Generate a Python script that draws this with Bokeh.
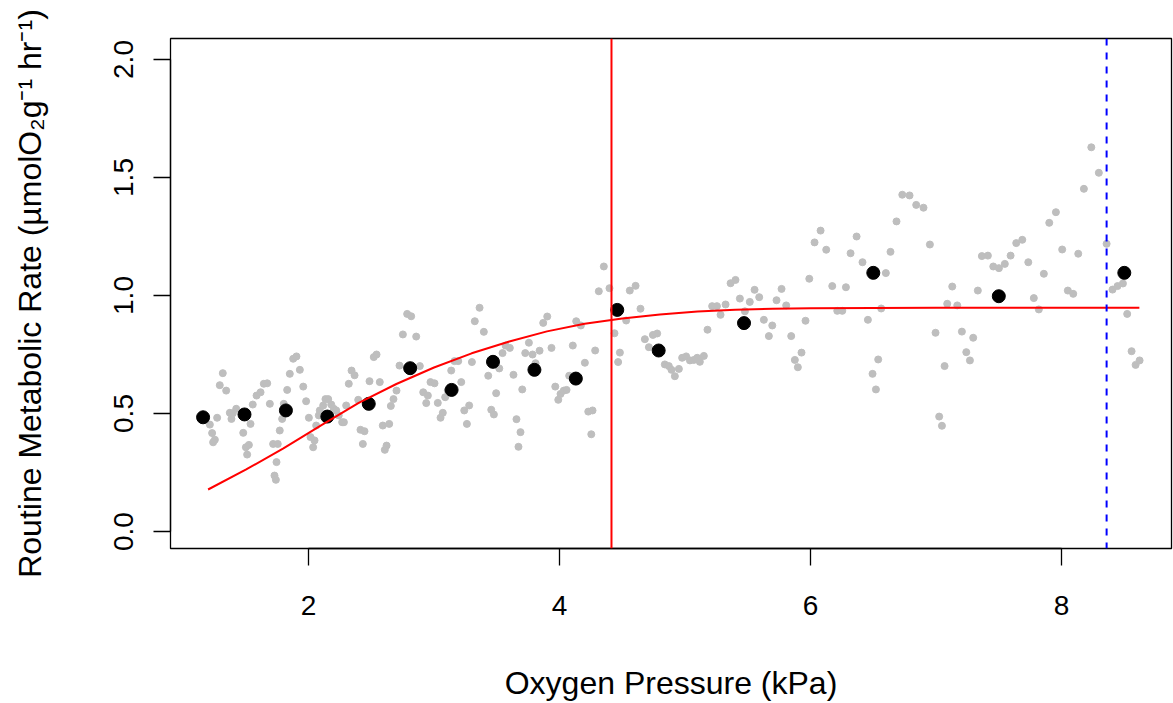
from bokeh.plotting import figure
from bokeh.models import Range1d, FixedTicker, Span, PrintfTickFormatter
from bokeh.embed import file_html
from bokeh.resources import INLINE

# Raw measurements (grey)
raw_x = [1.317, 1.293, 1.344, 1.272, 1.214, 1.232, 1.254, 1.240, 1.386, 1.373, 1.424, 1.397, 1.480, 1.538,
         1.556, 1.586, 1.618, 1.644, 1.671, 1.501, 1.525, 1.511, 1.692, 1.718, 1.755, 1.745, 1.729, 1.740,
         1.771, 1.790, 1.803, 1.830, 1.851, 1.878, 1.904, 1.931, 1.958, 1.981, 2.003, 2.016, 2.048, 2.037,
         2.061, 2.082, 2.090, 2.117, 2.135, 2.157, 2.181, 2.202, 2.221, 2.241, 2.268, 2.282, 2.300, 2.321,
         2.343, 2.367, 2.396, 2.414, 2.446, 2.433, 2.486, 2.520, 2.542, 2.568, 2.592, 2.643, 2.622, 2.608,
         2.656, 2.677, 2.701, 2.725, 2.887, 2.914, 2.938, 2.951, 2.972, 2.786, 2.818, 2.752, 2.858,
         3.004, 3.030, 3.070, 3.052, 3.089, 3.110, 3.137, 3.163, 3.193, 3.217, 3.241, 3.280, 3.262, 3.302,
         3.325, 3.363, 3.397, 3.432, 3.456, 3.477, 3.495, 3.520, 3.546, 3.570, 3.604, 3.633, 3.657, 3.689,
         3.673, 3.703, 3.727, 3.756, 3.785, 3.809, 3.841, 3.870, 3.902, 3.936, 3.966, 3.990, 4.008, 4.034,
         4.056, 4.077, 4.106, 4.133, 4.170, 4.202, 4.229, 4.263, 4.253, 4.284, 4.313, 4.438, 4.467, 4.481,
         4.353, 4.398,
         4.560, 4.606, 4.645, 4.531, 4.680, 4.712, 4.744, 4.778, 4.839, 4.871, 4.892, 4.919, 4.951, 4.977,
         5.009, 5.039, 5.070, 5.097, 5.118, 5.150, 5.179, 5.216, 5.254, 5.283, 5.323, 5.363, 5.402, 5.437,
         5.477, 5.516, 5.554, 5.591, 5.628, 5.668, 5.695, 5.729, 5.769, 5.806, 5.846, 5.875, 5.899, 5.928,
         5.960, 5.990,
         6.032, 6.080, 6.125, 6.173, 6.213, 6.253, 6.282, 6.319, 6.367, 6.414, 6.457, 6.494, 6.521, 6.539,
         6.563, 6.600, 6.637, 6.685, 6.731, 6.789, 6.842, 6.900, 6.951, 6.996, 7.068, 7.089, 7.129, 7.169,
         7.206, 7.241, 7.270, 7.296, 7.333, 7.365, 7.413, 7.456, 7.501, 7.025, 7.047,
         7.548, 7.594, 7.639, 7.687, 7.735, 7.779, 7.819, 7.859, 7.902, 7.955, 8.005, 8.050, 8.093, 8.133,
         8.178, 8.237, 8.297, 8.359, 8.406, 8.446, 8.489, 8.523, 8.558, 8.590, 8.622]
raw_y = [0.671, 0.620, 0.597, 0.482, 0.453, 0.417, 0.389, 0.378, 0.477, 0.503, 0.520, 0.501, 0.418, 0.456,
         0.538, 0.576, 0.590, 0.626, 0.628, 0.357, 0.367, 0.326, 0.541, 0.371, 0.371, 0.294, 0.237, 0.219,
         0.428, 0.477, 0.541, 0.600, 0.668, 0.732, 0.742, 0.685, 0.614, 0.552, 0.482, 0.400, 0.386, 0.357,
         0.449, 0.492, 0.513, 0.534, 0.561, 0.561, 0.538, 0.520, 0.513, 0.492, 0.463, 0.463, 0.534, 0.626,
         0.682, 0.662, 0.558, 0.431, 0.425, 0.371, 0.637, 0.739, 0.750, 0.633, 0.449, 0.456, 0.364, 0.346,
         0.532, 0.561, 0.597, 0.703, 0.701, 0.590, 0.544, 0.576, 0.633, 0.922, 0.912, 0.835, 0.826,
         0.628, 0.545, 0.503, 0.482, 0.569, 0.597, 0.682, 0.722, 0.722, 0.633, 0.513, 0.534, 0.456, 0.718,
         0.891, 0.948, 0.846, 0.660, 0.516, 0.496, 0.586, 0.691, 0.756, 0.788, 0.778, 0.664, 0.476, 0.421,
         0.359, 0.602, 0.756, 0.800, 0.750, 0.713, 0.766, 0.884, 0.911, 0.778, 0.614, 0.558, 0.583, 0.597,
         0.600, 0.660, 0.788, 0.891, 0.873, 0.715, 0.508, 0.513, 0.412, 0.767, 1.018, 0.840, 0.718, 0.758,
         1.123, 1.031,
         1.021, 1.041, 0.944, 0.894, 0.815, 0.781, 0.833, 0.839, 0.708, 0.701, 0.685, 0.658, 0.689, 0.736,
         0.742, 0.725, 0.727, 0.736, 0.719, 0.744, 0.855, 0.955, 0.955, 0.918, 0.962, 1.052, 1.066, 0.987,
         0.933, 0.973, 1.024, 0.993, 0.897, 0.828, 0.873, 0.980, 1.028, 0.958, 0.828, 0.727, 0.696, 0.758,
         0.893, 1.071,
         1.225, 1.275, 1.194, 1.040, 0.935, 0.935, 1.035, 1.179, 1.250, 1.141, 0.897, 0.668, 0.602, 0.729,
         0.945, 1.095, 1.185, 1.314, 1.427, 1.424, 1.384, 1.372, 1.216, 0.842, 0.701, 0.965, 1.038, 0.958,
         0.847, 0.760, 0.725, 0.821, 1.021, 1.167, 1.169, 1.123, 1.116, 0.487, 0.448,
         1.134, 1.169, 1.222, 1.236, 1.141, 0.989, 0.941, 1.092, 1.308, 1.353, 1.195, 1.021, 1.007, 1.177,
         1.452, 1.628, 1.520, 1.219, 1.025, 1.040, 1.051, 0.922, 0.764, 0.706, 0.725]

# Binned means (black)
bin_x = [1.16, 1.49, 1.82, 2.15, 2.48, 2.81, 3.14, 3.47, 3.80, 4.13, 4.46, 4.79, 5.47, 6.50, 7.50, 8.50]
bin_y = [0.484, 0.496, 0.513, 0.487, 0.541, 0.692, 0.600, 0.719, 0.685, 0.648, 0.939, 0.767, 0.883, 1.096,
         0.997, 1.096]

# Fitted curve (red)
fit_x = [1.2, 1.5, 1.8, 2.1, 2.4, 2.7, 3.0, 3.3, 3.6, 3.9, 4.2, 4.5, 4.8, 5.1, 5.4, 5.7, 6.0, 6.5, 7.0,
         8.0, 8.62]
fit_y = [0.178, 0.262, 0.352, 0.450, 0.545, 0.625, 0.695, 0.755, 0.805, 0.848, 0.880, 0.903, 0.920, 0.932,
         0.940, 0.944, 0.946, 0.947, 0.948, 0.948, 0.948]

pcrit = 4.414
max_po2 = 8.359

x_ticks = [2, 4, 6, 8]
y_ticks = [0.0, 0.5, 1.0, 1.5, 2.0]

FONT = "Liberation Sans"

p = figure(width=1173, height=703, x_range=Range1d(0.9004, 8.876), y_range=Range1d(-0.072, 2.089),
           output_backend="svg", toolbar_location=None,
           min_border_left=170, min_border_right=2, min_border_top=38, min_border_bottom=155)
p.grid.visible = False
p.outline_line_color = "black"
p.outline_line_width = 1.3
p.background_fill_color = "white"
p.border_fill_color = "white"

p.scatter(raw_x, raw_y, marker="circle", size=7, color="#BEBEBE")
p.scatter(bin_x, bin_y, marker="circle", size=13, color="black")
p.line(fit_x, fit_y, line_color="red", line_width=2)
p.add_layout(Span(location=pcrit, dimension="height", line_color="red", line_width=2))
p.add_layout(Span(location=max_po2, dimension="height", line_color="blue", line_width=2, line_dash="7 7"))

for ax in (p.xaxis[0], p.yaxis[0]):
    ax.minor_tick_line_color = None
    ax.major_tick_in = 0
    ax.major_tick_out = 17
    ax.major_tick_line_width = 1.3
    ax.axis_line_width = 1.3
    ax.major_label_text_font = FONT
    ax.major_label_text_font_size = "28px"
    ax.major_label_text_color = "black"
    ax.axis_label_text_font = FONT
    ax.axis_label_text_font_size = "32px"
    ax.axis_label_text_font_style = "normal"
    ax.axis_label_text_color = "black"

p.xaxis.ticker = FixedTicker(ticks=x_ticks)
p.yaxis.ticker = FixedTicker(ticks=y_ticks)
p.yaxis.formatter = PrintfTickFormatter(format="%.1f")
p.xaxis.bounds = (2, 8)
p.yaxis.bounds = (0, 2)
p.yaxis.major_label_orientation = "vertical"
p.xaxis.major_label_standoff = 30
p.yaxis.major_label_standoff = 20
p.xaxis.axis_label = "Oxygen Pressure (kPa)"
p.yaxis.axis_label = "Routine Metabolic Rate (\u00b5molO\u2082g\u207b\u00b9 hr\u207b\u00b9)"
p.xaxis.axis_label_standoff = 47
p.yaxis.axis_label_standoff = 64

open("out.html", "w").write(file_html(p, INLINE))
